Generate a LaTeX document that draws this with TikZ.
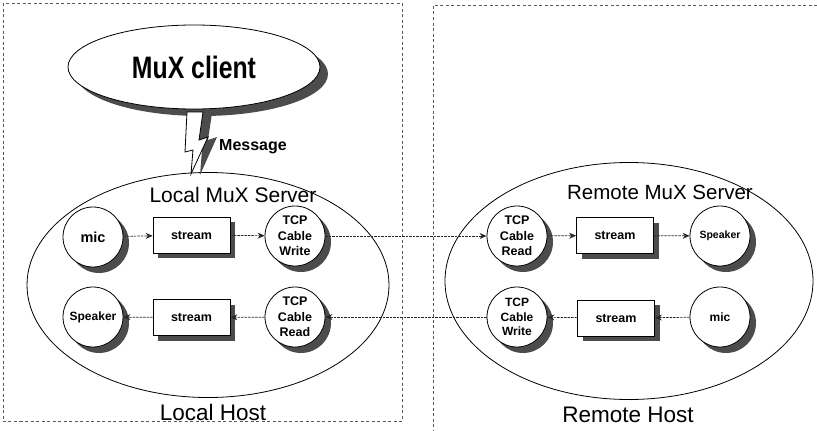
\documentclass[tikz,border=0pt]{standalone}
\usepackage{fontspec}
\usepackage{graphicx}
\setmainfont{Liberation Sans}
\usetikzlibrary{shapes.geometric,shadows,arrows.meta}

\begin{document}
\begin{tikzpicture}[x=1pt,y=-1pt,
  hostframe/.style={draw=black!65, line width=0.6pt, dash pattern=on 3pt off 2.5pt},
  shadowfill/.style={fill=black!70, fill opacity=1, opacity=1},
  proc/.style={circle, draw, line width=0.8pt, fill=white, minimum size=60pt,
    inner sep=0pt, align=center, font=\bfseries\fontsize{12.5}{15.5}\selectfont,
    drop shadow={shadow xshift=6pt, shadow yshift=-6pt, shadowfill}},
  streambox/.style={rectangle, draw, line width=0.8pt, fill=white,
    minimum width=77pt, minimum height=36pt, inner sep=0pt,
    font=\bfseries\fontsize{12.5}{14}\selectfont,
    drop shadow={shadow xshift=5pt, shadow yshift=-5pt, shadowfill}},
  server/.style={ellipse, draw, line width=0.8pt, inner sep=0pt},
  flow/.style={draw=black!85, line width=0.7pt, dash pattern=on 2.5pt off 1pt,
    -{Stealth[length=7pt,width=6pt]}},
  title/.style={font=\fontsize{21}{24}\selectfont}
]
\useasboundingbox (0,0) rectangle (817,431);

% host frames
\draw[hostframe] (3,3) rectangle (402,421);
\draw[hostframe] (817,5) -- (433,5) -- (433,431);

% server ellipses
\node[server, minimum width=362pt, minimum height=225pt] (lsrv) at (208,285) {};
\node[server, minimum width=368pt, minimum height=237pt] (rsrv) at (629,281) {};

% client
\node[ellipse, draw, line width=0.8pt, fill=white, minimum width=252pt,
  minimum height=84pt, inner sep=0pt,
  drop shadow={shadow xshift=8pt, shadow yshift=-7pt, shadowfill}] (client) at (194,67)
  {\scalebox{0.8}[1]{\bfseries\fontsize{31}{34}\selectfont MuX client}};

% message bolt between client and local server
\fill[shadowfill] (196,113) -- (212,113) -- (208,140) -- (217,137) -- (200,175)
  -- (202,150) -- (194,152) -- cycle;
\filldraw[fill=white, draw=black, line width=0.8pt]
  (187,112) -- (203,112) -- (199,140) -- (208,137) -- (191,174)
  -- (193,150) -- (185,152) -- cycle;
\node[font=\bfseries\fontsize{16}{18}\selectfont] (msg) at (253,147) {Message};

% titles
\node[title] (ltitle) at (233,195) {Local MuX Server};
\node[title, font=\fontsize{20.5}{24}\selectfont] (rtitle) at (660,192) {Remote MuX Server};
\node[font=\fontsize{22.5}{26}\selectfont] (lhost) at (213,412) {Local Host};
\node[font=\fontsize{22.5}{26}\selectfont] (rhost) at (628,415) {Remote Host};

% local server processes
\node[proc, font=\bfseries\fontsize{14.5}{16}\selectfont] (lmic) at (93,237) {mic};
\node[streambox] (ls1) at (191.5,235) {stream};
\node[proc] (ltw) at (295,236) {TCP\\Cable\\Write};
\node[proc, font=\bfseries\fontsize{12}{14}\selectfont] (lspk) at (93,317) {Speaker};
\node[streambox] (ls2) at (191.5,317.5) {stream};
\node[proc] (ltr) at (295,317) {TCP\\Cable\\Read};

% remote server processes
\node[proc] (rtr) at (517,236) {TCP\\Cable\\Read};
\node[streambox] (rs1) at (615,235.5) {stream};
\node[proc, font=\bfseries\fontsize{10.5}{12}\selectfont] (rspk) at (720,236) {Speaker};
\node[proc, font=\bfseries\fontsize{12}{14.5}\selectfont] (rtw) at (517,317) {TCP\\Cable\\Write};
\node[streambox] (rs2) at (616,318) {stream};
\node[proc, font=\bfseries\fontsize{12}{14}\selectfont] (rmic) at (720,317) {mic};

% outgoing audio
\draw[flow] (lmic) -- (ls1);
\draw[flow] (ls1) -- (ltw);
\draw[flow] (ltw) -- (rtr);
\draw[flow] (rtr) -- (rs1);
\draw[flow] (rs1) -- (rspk);

% incoming audio
\draw[flow] (rmic) -- (rs2);
\draw[flow] (rs2) -- (rtw);
\draw[flow] (rtw) -- (ltr);
\draw[flow] (ltr) -- (ls2);
\draw[flow] (ls2) -- (lspk);
\end{tikzpicture}
\end{document}
